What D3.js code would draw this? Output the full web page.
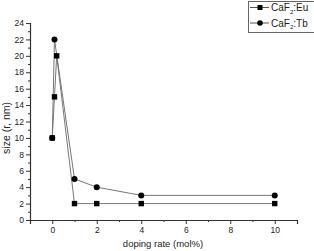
<!DOCTYPE html>
<html>
<head>
<meta charset="utf-8">
<script src="https://cdn.jsdelivr.net/npm/d3@7"></script>
<style>
  body { margin: 0; background: #fff; }
  text { font-family: "Liberation Sans", Arial, sans-serif; }
</style>
</head>
<body>
<div id="canvas"></div>
<script>
// doping rate (mol%) and particle size (nm)
var euX = [0, 0.1, 0.2, 1, 2, 4, 10];
var euY = [10, 15, 20, 2, 2, 2, 2];
var tbX = [0, 0.1, 1, 2, 4, 10];
var tbY = [10, 22, 5, 4, 3, 3];
var xTicks = [0, 2, 4, 6, 8, 10];
var yTicks = [0, 2, 4, 6, 8, 10, 12, 14, 16, 18, 20, 22, 24];

var W = 314, H = 251;
var svg = d3.select("#canvas").append("svg")
  .attr("width", W)
  .attr("height", H);

var x = d3.scaleLinear().domain([-1, 11]).range([30, 297]);
var y = d3.scaleLinear().domain([0, 24]).range([220, 23]);

var axisColor = "#333";

// x axis
svg.append("g")
  .attr("transform", "translate(0,220)")
  .call(d3.axisBottom(x).tickValues(xTicks).tickSize(4).tickPadding(3));
svg.append("g")
  .attr("transform", "translate(0,220)")
  .call(d3.axisBottom(x).tickValues(d3.range(-1, 12, 1).filter(d => d % 2 !== 0)).tickSize(2).tickFormat(""))
  .select(".domain").remove();

// y axis
svg.append("g")
  .attr("transform", "translate(30,0)")
  .call(d3.axisLeft(y).tickValues(yTicks).tickSize(4).tickPadding(2));
svg.append("g")
  .attr("transform", "translate(30,0)")
  .call(d3.axisLeft(y).tickValues(d3.range(1, 24, 2)).tickSize(2).tickFormat(""))
  .select(".domain").remove();

svg.selectAll(".domain").attr("stroke", axisColor).attr("stroke-width", 1.2);
svg.selectAll(".tick line").attr("stroke", axisColor);
svg.selectAll(".tick text").attr("font-size", "8.5px").attr("fill", "#222")
  .attr("font-family", "Liberation Sans, Arial, sans-serif");

// axis labels
svg.append("text")
  .attr("x", 163).attr("y", 246.5)
  .attr("text-anchor", "middle")
  .attr("font-size", "9.5px")
  .attr("fill", "#222")
  .text("doping rate (mol%)");
svg.append("text")
  .attr("transform", "translate(9.5,128) rotate(-90)")
  .attr("text-anchor", "middle")
  .attr("font-size", "10.5px")
  .attr("fill", "#222")
  .text("size (r, nm)");

var line = d3.line().x(d => x(d[0])).y(d => y(d[1]));
var eu = euX.map((d, i) => [d, euY[i]]);
var tb = tbX.map((d, i) => [d, tbY[i]]);

svg.append("path").datum(tb)
  .attr("d", line).attr("fill", "none")
  .attr("stroke", "#777").attr("stroke-width", 1);
svg.append("path").datum(eu)
  .attr("d", line).attr("fill", "none")
  .attr("stroke", "#777").attr("stroke-width", 1);

svg.selectAll(".tbpt").data(tb).enter().append("circle")
  .attr("cx", d => x(d[0])).attr("cy", d => y(d[1]))
  .attr("r", 3).attr("fill", "#000");
svg.selectAll(".eupt").data(eu).enter().append("rect")
  .attr("x", d => x(d[0]) - 2.7).attr("y", d => y(d[1]) - 2.7)
  .attr("width", 5.4).attr("height", 5.4).attr("fill", "#000");

// legend
var lg = svg.append("g");
lg.append("rect")
  .attr("x", 248.5).attr("y", 1.5).attr("width", 70).attr("height", 31)
  .attr("fill", "#fff").attr("stroke", "#666").attr("stroke-width", 1);
var items = [["Eu", "sq", 7.5], ["Tb", "ci", 23]];
items.forEach(function (it) {
  lg.append("line")
    .attr("x1", 250).attr("x2", 269).attr("y1", it[2]).attr("y2", it[2])
    .attr("stroke", "#555");
  if (it[1] === "sq") {
    lg.append("rect").attr("x", 257.5).attr("y", it[2] - 2.5)
      .attr("width", 5).attr("height", 5).attr("fill", "#000");
  } else {
    lg.append("circle").attr("cx", 260).attr("cy", it[2]).attr("r", 2.8).attr("fill", "#000");
  }
  var t = lg.append("text").attr("x", 271).attr("y", it[2] + 3.5)
    .attr("font-size", "10px").attr("fill", "#222");
  t.append("tspan").text("CaF");
  t.append("tspan").attr("font-size", "6px").attr("dy", 2.5).text("2");
  t.append("tspan").attr("dy", -2.5).text(":" + it[0]);
});
</script>
</body>
</html>
